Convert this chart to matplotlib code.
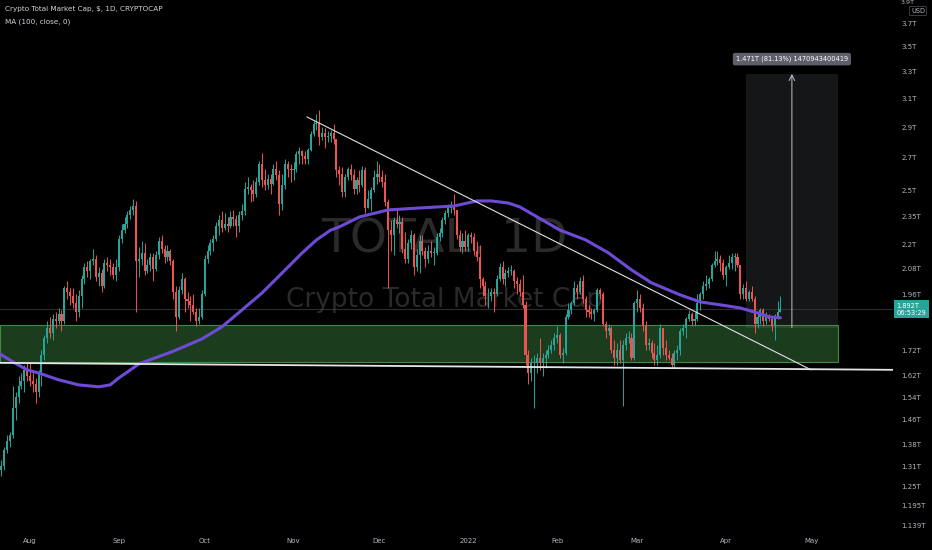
import matplotlib
matplotlib.use("Agg")
import matplotlib.pyplot as plt
import matplotlib.dates as mdates
from matplotlib.patches import Rectangle
from matplotlib.ticker import FixedLocator, FixedFormatter, NullLocator
import numpy as np
import pandas as pd

# TOTAL crypto market cap, daily candles 2021-07-21 .. 2022-04-20, in trillions USD
start_day = "2021-07-21"
first_open = 1.22
closes = [
    # Jul 21-31
    1.30, 1.31, 1.36, 1.39, 1.41, 1.50, 1.54, 1.58, 1.60, 1.64, 1.62,
    # Aug
    1.60, 1.59, 1.56, 1.63, 1.70, 1.77, 1.81, 1.79, 1.85, 1.84,
    1.87, 1.84, 1.99, 1.97, 1.95, 1.92, 1.88, 1.95, 2.03, 2.09,
    2.07, 2.12, 2.13, 2.04, 2.06, 2.00, 2.11, 2.10, 2.09, 2.05, 2.09,
    # Sep
    2.23, 2.28, 2.31, 2.36, 2.39, 2.41, 2.12, 2.13, 2.16, 2.07,
    2.10, 2.14, 2.08, 2.15, 2.22, 2.18, 2.14, 2.17, 2.12, 1.97,
    1.86, 1.98, 2.03, 1.94, 1.93, 1.91, 1.88, 1.84, 1.86, 1.96,
    # Oct
    2.13, 2.17, 2.21, 2.23, 2.30, 2.33, 2.29, 2.31, 2.30, 2.35,
    2.34, 2.30, 2.36, 2.38, 2.51, 2.52, 2.50, 2.48, 2.55, 2.66,
    2.56, 2.53, 2.57, 2.54, 2.63, 2.59, 2.42, 2.53, 2.66, 2.63, 2.62,
    # Nov
    2.63, 2.72, 2.74, 2.71, 2.69, 2.75, 2.85, 2.92, 2.93, 2.83,
    2.86, 2.83, 2.84, 2.86, 2.82, 2.62, 2.60, 2.49, 2.58, 2.63,
    2.59, 2.51, 2.56, 2.53, 2.62, 2.40, 2.45, 2.50, 2.58, 2.60,
    # Dec
    2.58, 2.55, 2.43, 2.28, 2.25, 2.33, 2.31, 2.32, 2.18, 2.13,
    2.21, 2.25, 2.09, 2.15, 2.22, 2.17, 2.13, 2.17, 2.16, 2.16,
    2.24, 2.26, 2.33, 2.37, 2.40, 2.41, 2.39, 2.25, 2.19, 2.22, 2.19,
    # Jan
    2.25, 2.24, 2.17, 2.14, 2.03, 2.00, 1.95, 1.95, 1.97, 1.96,
    2.03, 2.09, 2.03, 2.06, 2.07, 2.07, 2.02, 2.01, 1.97, 1.91,
    1.70, 1.63, 1.67, 1.67, 1.69, 1.67, 1.69, 1.70, 1.72, 1.74, 1.77,
    # Feb
    1.78, 1.70, 1.71, 1.86, 1.89, 1.92, 1.99, 1.97, 2.02, 1.94,
    1.89, 1.88, 1.87, 1.89, 1.98, 1.96, 1.83, 1.80, 1.81, 1.72,
    1.69, 1.72, 1.68, 1.74, 1.77, 1.77, 1.69, 1.92,
    # Mar
    1.94, 1.90, 1.82, 1.74, 1.75, 1.71, 1.68, 1.70, 1.81, 1.73,
    1.70, 1.69, 1.66, 1.71, 1.72, 1.80, 1.81, 1.85, 1.87, 1.84,
    1.85, 1.92, 1.96, 2.00, 2.01, 2.03, 2.10, 2.12, 2.13, 2.11, 2.05,
    # Apr 1-20
    2.09, 2.11, 2.14, 2.14, 2.10, 1.96, 1.99, 1.94, 1.97, 1.94,
    1.83, 1.86, 1.89, 1.84, 1.86, 1.85, 1.82, 1.86, 1.88, 1.892,
]
highs = [
    1.32, 1.33, 1.37, 1.41, 1.42, 1.58, 1.56, 1.62, 1.63, 1.66, 1.67,
    1.67, 1.64, 1.61, 1.64, 1.72, 1.78, 1.84, 1.86, 1.87, 1.88,
    1.90, 1.89, 2.00, 2.02, 1.99, 1.99, 1.96, 1.98, 2.05, 2.11,
    2.12, 2.13, 2.18, 2.15, 2.09, 2.08, 2.13, 2.14, 2.13, 2.11, 2.13,
    2.25, 2.31, 2.35, 2.38, 2.41, 2.45, 2.44, 2.19, 2.22, 2.21,
    2.13, 2.16, 2.16, 2.17, 2.24, 2.25, 2.20, 2.20, 2.18, 2.13,
    2.00, 2.00, 2.06, 2.04, 1.97, 1.95, 1.96, 1.90, 1.90, 1.98,
    2.15, 2.20, 2.23, 2.25, 2.32, 2.36, 2.38, 2.37, 2.35, 2.38,
    2.39, 2.36, 2.38, 2.42, 2.55, 2.58, 2.54, 2.56, 2.58, 2.68,
    2.73, 2.63, 2.60, 2.60, 2.66, 2.68, 2.62, 2.60, 2.69, 2.68, 2.66,
    2.67, 2.74, 2.77, 2.75, 2.74, 2.76, 2.87, 2.94, 2.99, 3.02,
    2.90, 2.89, 2.87, 2.88, 2.92, 2.82, 2.65, 2.64, 2.60, 2.64,
    2.66, 2.63, 2.58, 2.62, 2.65, 2.64, 2.50, 2.52, 2.62, 2.68,
    2.66, 2.62, 2.60, 2.45, 2.33, 2.35, 2.40, 2.36, 2.35, 2.27,
    2.23, 2.28, 2.26, 2.18, 2.25, 2.25, 2.19, 2.20, 2.22, 2.19,
    2.26, 2.29, 2.35, 2.39, 2.42, 2.44, 2.48, 2.39, 2.28, 2.26, 2.28,
    2.26, 2.27, 2.26, 2.22, 2.20, 2.04, 2.02, 1.99, 1.99, 1.99,
    2.05, 2.11, 2.12, 2.08, 2.09, 2.10, 2.08, 2.04, 2.03, 2.05,
    1.93, 1.72, 1.69, 1.70, 1.71, 1.77, 1.71, 1.72, 1.74, 1.76, 1.79,
    1.82, 1.79, 1.73, 1.87, 1.92, 1.93, 2.02, 2.01, 2.04, 2.05,
    1.95, 1.91, 1.90, 1.90, 1.99, 1.99, 1.97, 1.84, 1.83, 1.82,
    1.76, 1.75, 1.76, 1.76, 1.79, 1.80, 1.79, 1.93,
    1.98, 1.96, 1.92, 1.84, 1.77, 1.76, 1.75, 1.74, 1.83, 1.81,
    1.76, 1.72, 1.71, 1.72, 1.74, 1.81, 1.83, 1.86, 1.89, 1.88,
    1.88, 1.96, 1.97, 2.02, 2.05, 2.04, 2.11, 2.17, 2.17, 2.15, 2.13,
    2.10, 2.15, 2.16, 2.16, 2.16, 2.10, 2.01, 2.02, 1.98, 2.00,
    1.95, 1.88, 1.90, 1.90, 1.88, 1.87, 1.86, 1.87, 1.93, 1.95,
]
lows = [
    1.18, 1.28, 1.30, 1.35, 1.37, 1.40, 1.46, 1.52, 1.57, 1.56, 1.60,
    1.58, 1.56, 1.52, 1.54, 1.58, 1.68, 1.75, 1.77, 1.76, 1.81,
    1.83, 1.80, 1.83, 1.94, 1.91, 1.90, 1.84, 1.86, 1.90, 2.01,
    2.04, 2.03, 2.10, 2.02, 2.00, 1.97, 1.99, 2.07, 2.05, 2.03, 2.02,
    2.07, 2.21, 2.26, 2.29, 2.34, 2.36, 1.88, 2.04, 2.10, 2.05,
    2.06, 2.07, 2.02, 2.07, 2.13, 2.16, 2.11, 2.12, 2.10, 1.94,
    1.80, 1.85, 1.96, 1.88, 1.90, 1.84, 1.87, 1.82, 1.83, 1.85,
    1.95, 2.11, 2.15, 2.17, 2.22, 2.25, 2.27, 2.28, 2.27, 2.29,
    2.30, 2.24, 2.27, 2.33, 2.36, 2.48, 2.43, 2.44, 2.46, 2.53,
    2.52, 2.50, 2.51, 2.48, 2.53, 2.56, 2.36, 2.39, 2.51, 2.58, 2.55,
    2.56, 2.61, 2.66, 2.66, 2.66, 2.66, 2.74, 2.84, 2.88, 2.78,
    2.81, 2.76, 2.80, 2.80, 2.79, 2.58, 2.53, 2.46, 2.46, 2.56,
    2.56, 2.48, 2.48, 2.49, 2.52, 2.37, 2.40, 2.38, 2.49, 2.54,
    2.55, 2.52, 2.41, 1.99, 2.17, 2.15, 2.29, 2.26, 2.16, 2.11,
    2.11, 2.18, 2.05, 2.07, 2.06, 2.15, 2.09, 2.11, 2.14, 2.10,
    2.15, 2.22, 2.24, 2.31, 2.35, 2.37, 2.36, 2.23, 2.17, 2.16, 2.17,
    2.17, 2.21, 2.15, 2.12, 1.99, 1.95, 1.91, 1.90, 1.93, 1.88,
    1.95, 2.02, 2.01, 2.00, 2.04, 2.05, 1.99, 1.96, 1.95, 1.90,
    1.66, 1.59, 1.60, 1.50, 1.63, 1.64, 1.62, 1.65, 1.69, 1.71, 1.72,
    1.75, 1.69, 1.67, 1.70, 1.85, 1.87, 1.91, 1.94, 1.96, 1.92,
    1.86, 1.86, 1.85, 1.84, 1.88, 1.94, 1.82, 1.77, 1.78, 1.71,
    1.66, 1.66, 1.67, 1.51, 1.72, 1.75, 1.68, 1.68,
    1.88, 1.88, 1.80, 1.72, 1.72, 1.69, 1.66, 1.66, 1.69, 1.70,
    1.68, 1.68, 1.65, 1.65, 1.68, 1.70, 1.78, 1.77, 1.84, 1.82,
    1.82, 1.84, 1.89, 1.94, 1.98, 1.99, 2.02, 2.09, 2.10, 2.07, 2.03,
    2.00, 2.08, 2.08, 2.07, 2.09, 1.94, 1.94, 1.93, 1.93, 1.93,
    1.79, 1.81, 1.83, 1.82, 1.83, 1.84, 1.80, 1.76, 1.85, 1.88,
]

# MA (100, close)
ma_dates = ["2021-07-21", "2021-07-26", "2021-07-31", "2021-08-04", "2021-08-11",
            "2021-08-18", "2021-08-25", "2021-08-29", "2021-09-01", "2021-09-06",
            "2021-09-08", "2021-09-20", "2021-09-30", "2021-10-07", "2021-10-14",
            "2021-10-21", "2021-10-28", "2021-11-04", "2021-11-09", "2021-11-14",
            "2021-11-17", "2021-11-24", "2021-12-04", "2021-12-15", "2021-12-27",
            "2022-01-04", "2022-01-09", "2022-01-15", "2022-01-19", "2022-02-02",
            "2022-02-11", "2022-02-19", "2022-02-27", "2022-03-06", "2022-03-16",
            "2022-03-23", "2022-03-30", "2022-04-06", "2022-04-12", "2022-04-16",
            "2022-04-20"]
ma_values = [1.708, 1.673, 1.642, 1.630, 1.604, 1.585, 1.578, 1.585, 1.611, 1.649,
             1.665, 1.715, 1.765, 1.816, 1.889, 1.966, 2.060, 2.159, 2.226, 2.278,
             2.295, 2.349, 2.388, 2.399, 2.410, 2.439, 2.439, 2.427, 2.405, 2.278,
             2.226, 2.159, 2.075, 2.013, 1.957, 1.925, 1.912, 1.898, 1.876, 1.859,
             1.855]

# drawings
zone_low, zone_high = 1.672, 1.824
zone_end = "2022-05-10"
support_dates = ["2021-07-21", "2022-05-29"]
support_prices = [1.669, 1.642]
trend_dates = ["2021-11-05 17:00", "2022-04-30 17:00"]
trend_prices = [2.969, 1.642]
measure_start, measure_end, measure_arrow = "2022-04-08", "2022-05-10", "2022-04-24"
measure_from, measure_to = 1.813, 3.284
measure_label = "1.471T (81.13%) 1470943400419"

top_tick_label = "3.9T"
y_ticks = [3.7, 3.5, 3.3, 3.1, 2.9, 2.7, 2.5, 2.35, 2.2, 2.08, 1.96,
           1.72, 1.62, 1.54, 1.46, 1.38, 1.31, 1.25, 1.195, 1.139]
y_tick_labels = ["3.7T", "3.5T", "3.3T", "3.1T", "2.9T", "2.7T", "2.5T",
                 "2.35T", "2.2T", "2.08T", "1.96T", "1.72T", "1.62T", "1.54T",
                 "1.46T", "1.38T", "1.31T", "1.25T", "1.195T", "1.139T"]
x_tick_dates = ["2021-08-01", "2021-09-01", "2021-10-01", "2021-11-01", "2021-12-01",
                "2022-01-01", "2022-02-01", "2022-03-01", "2022-04-01", "2022-05-01"]
x_tick_labels = ["Aug", "Sep", "Oct", "Nov", "Dec", "2022", "Feb", "Mar", "Apr", "May"]

UP, DOWN = "#26a69a", "#ef5350"
TXT = "#b2b5be"

def dn(s):
    return mdates.date2num(pd.Timestamp(s))

c = np.array(closes)
o = np.r_[first_open, c[:-1]]
h = np.array(highs)
l = np.array(lows)
xs = mdates.date2num(pd.date_range(start_day, periods=len(c), freq="D"))
cols = np.where(c >= o, UP, DOWN)

fig = plt.figure(figsize=(9.32, 5.5), dpi=100, facecolor="black")
ax = fig.add_axes([0, 18 / 550, 893 / 932, 532 / 550])
ax.set_facecolor("black")
ax.set_yscale("log")

# watermark
ax.text(0.498, 0.549, "TOTAL, 1D", transform=ax.transAxes, ha="center", va="center",
        fontsize=34, color="#2a2a2a", zorder=0)
ax.text(0.498, 0.436, "Crypto Total Market Cap", transform=ax.transAxes, ha="center",
        va="center", fontsize=19, color="#2a2a2a", zorder=0)

# demand zone
x_left = dn("2021-08-01") - 10.47
ax.add_patch(Rectangle((x_left, zone_low), dn(zone_end) - x_left, zone_high - zone_low,
                       facecolor="#1b3d1d", edgecolor="#3f8a44", lw=0.8, zorder=1))

# measure box
ax.add_patch(Rectangle((dn(measure_start), measure_from), dn(measure_end) - dn(measure_start),
                       measure_to - measure_from, facecolor="#787b86", alpha=0.18,
                       edgecolor="none", zorder=1))
ax.annotate("", xy=(dn(measure_arrow), measure_to), xytext=(dn(measure_arrow), measure_from),
            arrowprops=dict(arrowstyle="->", color="#c0c3cc", lw=0.7, shrinkA=0, shrinkB=0),
            zorder=2)
ax.text(dn(measure_arrow), 3.40, measure_label, ha="center", va="center", fontsize=4.8,
        color="white", zorder=6,
        bbox=dict(boxstyle="round,pad=0.45,rounding_size=0.3", facecolor="#5d606b",
                  edgecolor="none"))

# last price line
ax.axhline(c[-1], color="#3a3a3a", lw=0.6, zorder=1)

# candles
ax.vlines(xs, l, h, colors=cols, lw=0.7, zorder=3)
ax.bar(xs, np.maximum(np.abs(c - o), 0.004), bottom=np.minimum(o, c), width=0.72,
       color=cols, lw=0, zorder=3)

# moving average
ax.plot([dn(d) for d in ma_dates], ma_values, color="#6e4bd6", lw=2.2,
        solid_capstyle="round", solid_joinstyle="round", zorder=4)

# trend lines
ax.plot([dn(d) for d in support_dates], support_prices, color="#e6e6e6", lw=1.3, zorder=5)
ax.plot([dn(d) for d in trend_dates], trend_prices, color="#e0e0e0", lw=0.8, zorder=5)

ax.set_xlim(x_left, dn("2021-08-01") + 301.3)
ax.set_ylim(1.123, 3.905)

ax.yaxis.tick_right()
ax.yaxis.set_major_locator(FixedLocator(y_ticks))
ax.yaxis.set_major_formatter(FixedFormatter(y_tick_labels))
ax.yaxis.set_minor_locator(NullLocator())
ax.set_xticks([dn(d) for d in x_tick_dates])
ax.set_xticklabels(x_tick_labels)
ax.tick_params(axis="y", length=0, pad=6, labelsize=5, labelcolor=TXT)
ax.tick_params(axis="x", length=0, pad=4, labelsize=5, labelcolor=TXT)
for lab in ax.get_yticklabels():
    lab.set_horizontalalignment("left")
for s in ax.spines.values():
    s.set_visible(False)

# top price label, sits just inside the top edge
fig.text(901 / 932, 1.0, top_tick_label, ha="left", va="top", fontsize=4.6, color=TXT)

# last price tag
ax.text(1.004, c[-1], "1.892T\n06:53:29", transform=ax.get_yaxis_transform(),
        ha="left", va="center", fontsize=4.8, color="white", linespacing=1.3,
        bbox=dict(boxstyle="square,pad=0.35", facecolor=UP, edgecolor="none"), clip_on=False)

fig.text(0.985, 1 - 11 / 550, "USD", ha="center", va="center", fontsize=4.8, color=TXT,
         bbox=dict(boxstyle="round,pad=0.25", facecolor="black", edgecolor="#555555", lw=0.5))

# legend lines
fig.text(5 / 932, 1 - 9 / 550, "Crypto Total Market Cap, $, 1D, CRYPTOCAP", ha="left",
         va="center", fontsize=5.2, color="#d1d4dc")
fig.text(5 / 932, 1 - 22 / 550, "MA (100, close, 0)", ha="left", va="center",
         fontsize=5.2, color="#d1d4dc")

fig.savefig("out.png", dpi=100, facecolor="black")
